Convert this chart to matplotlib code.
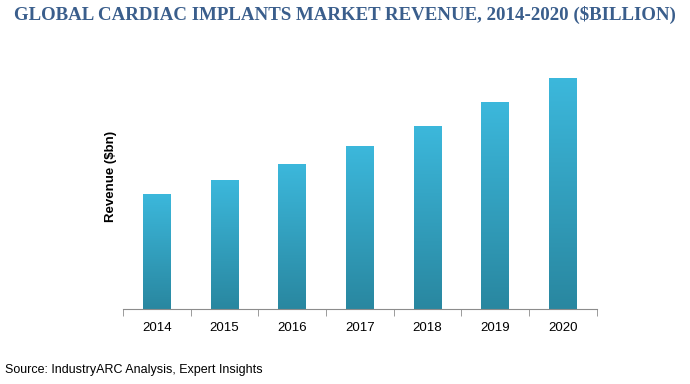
import matplotlib

matplotlib.use("Agg")
import matplotlib.pyplot as plt
import numpy as np
from matplotlib.colors import LinearSegmentedColormap

YEARS = ["2014", "2015", "2016", "2017", "2018", "2019", "2020"]
# no value axis on the original: heights (relative units)
REVENUE = [11.5, 12.9, 14.5, 16.3, 18.3, 20.7, 23.1]

TITLE = "GLOBAL CARDIAC IMPLANTS MARKET REVENUE, 2014-2020 ($BILLION)"
C_TITLE = "#3A5E8C"
C_TOP = "#3CB8DC"
C_BOTTOM = "#2987A0"

fig = plt.figure(figsize=(6.9, 3.84), dpi=100)
ax = fig.add_axes([0.178, 0.195, 0.687, 0.65])

x = np.arange(len(YEARS))
width = 0.41
bars = ax.bar(x, REVENUE, width, color="none", edgecolor="none")

# vertical gradient inside every bar
cmap = LinearSegmentedColormap.from_list("bar", [C_BOTTOM, C_TOP])
grad = np.linspace(0, 1, 256).reshape(-1, 1)
for bar in bars:
    bx, bw, bh = bar.get_x(), bar.get_width(), bar.get_height()
    im = ax.imshow(grad, cmap=cmap, origin="lower", aspect="auto",
                   extent=(bx, bx + bw, 0, bh), zorder=2)
    im.set_clip_path(bar)

ax.set_xlim(-0.5, len(YEARS) - 0.5)
ax.set_ylim(0, 24.9)

for side in ("top", "right", "left"):
    ax.spines[side].set_visible(False)
ax.spines["bottom"].set_color("#8C8C8C")
ax.set_yticks([])
ax.set_xticks(x)
ax.set_xticklabels(YEARS, fontsize=9.5, family="Liberation Sans")
ax.tick_params(axis="x", length=0, pad=9)
ax.set_xticks(np.arange(-0.5, len(YEARS)), minor=True)
ax.tick_params(axis="x", which="minor", length=5, color="#8C8C8C")
ax.set_ylabel("Revenue ($bn)", fontsize=9.5, fontweight="bold",
              family="Liberation Sans")
ax.yaxis.set_label_coords(-0.013, 0.53)

fig.text(0.5, 0.962, TITLE, ha="center", va="center", fontsize=13.6,
         fontweight="bold", family="Liberation Serif", color=C_TITLE)
fig.text(0.007, 0.02, "Source: IndustryARC Analysis, Expert Insights",
         ha="left", va="bottom", fontsize=9, family="Liberation Sans")

fig.savefig("out.png", dpi=100)
